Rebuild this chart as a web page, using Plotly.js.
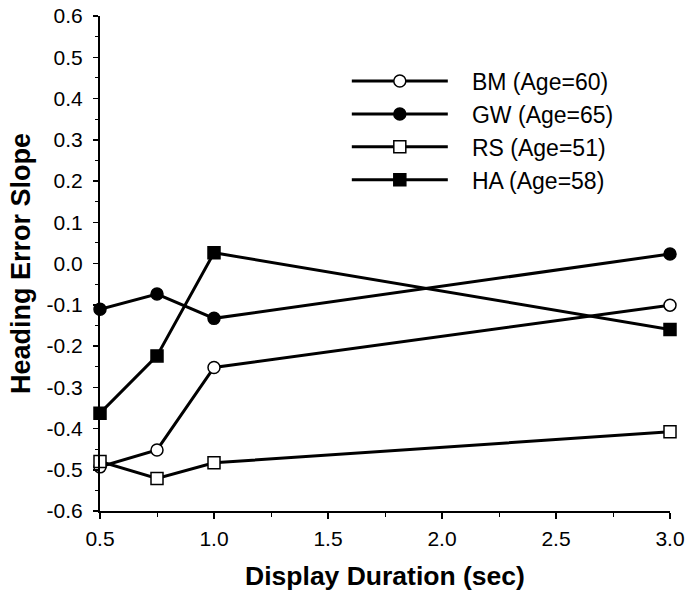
<!DOCTYPE html>
<html>
<head>
<meta charset="utf-8">
<script src="https://cdn.plot.ly/plotly-3.0.1.min.js"></script>
<style>html,body{margin:0;padding:0;background:#fff;}#chart{width:687px;height:591px;}</style>
</head>
<body>
<div id="chart"></div>
<script>
var durations = [0.5, 0.75, 1.0, 3.0];
var seriesNames = ["BM (Age=60)", "GW (Age=65)", "RS (Age=51)", "HA (Age=58)"];
var bmValues = [-0.493, -0.452, -0.252, -0.101];
var gwValues = [-0.111, -0.074, -0.133, 0.023];
var rsValues = [-0.480, -0.521, -0.483, -0.408];
var haValues = [-0.363, -0.224, 0.026, -0.160];
var xTickVals = [0.5, 1.0, 1.5, 2.0, 2.5, 3.0];
var xTickText = ["0.5", "1.0", "1.5", "2.0", "2.5", "3.0"];
var yTickVals = [-0.6, -0.5, -0.4, -0.3, -0.2, -0.1, 0.0, 0.1, 0.2, 0.3, 0.4, 0.5, 0.6];
var yTickText = ["-0.6", "-0.5", "-0.4", "-0.3", "-0.2", "-0.1", "0.0", "0.1", "0.2", "0.3", "0.4", "0.5", "0.6"];

var allValues = [bmValues, gwValues, rsValues, haValues];
var symbols = ["circle", "circle", "square", "square"];
var fills = ["#ffffff", "#000000", "#ffffff", "#000000"];
var pad = "\u00a0\u00a0\u00a0";

var traces = allValues.map(function (vals, i) {
  return {
    x: durations,
    y: vals,
    name: pad + seriesNames[i],
    type: "scatter",
    mode: "lines+markers",
    cliponaxis: false,
    line: {color: "#000", width: 3},
    marker: {symbol: symbols[i], size: 12, color: fills[i], line: {color: "#000", width: 1.5}}
  };
});

var layout = {
  width: 687,
  height: 591,
  margin: {l: 100, r: 17, t: 16, b: 80},
  paper_bgcolor: "#fff",
  plot_bgcolor: "#fff",
  font: {family: "Liberation Sans, Arial, sans-serif", color: "#000"},
  showlegend: true,
  legend: {
    x: 0.433, y: 0.912, xanchor: "left", yanchor: "top",
    bgcolor: "rgba(0,0,0,0)",
    font: {size: 23, color: "#000"},
    itemwidth: 96,
    tracegroupgap: 0
  },
  xaxis: {
    range: [0.5, 3.0],
    tickvals: xTickVals,
    ticktext: xTickText,
    ticks: "outside", ticklen: 6, tickwidth: 1.5, tickcolor: "#000",
    minor: {dtick: 0.25, ticks: "outside", ticklen: 4, tickwidth: 1, tickcolor: "#000"},
    showline: true, linecolor: "#000", linewidth: 2,
    showgrid: false, zeroline: false,
    tickfont: {size: 21},
    ticklabelstandoff: 2,
    title: {text: "Display Duration (sec)", font: {size: 26.5, family: "Liberation Sans, Arial, sans-serif", weight: "bold"}, standoff: 18},
    automargin: false
  },
  yaxis: {
    range: [-0.6, 0.6],
    tickvals: yTickVals,
    ticktext: yTickText,
    ticks: "outside", ticklen: 5, tickwidth: 1.5, tickcolor: "#000",
    minor: {dtick: 0.05, tick0: 0, ticks: "outside", ticklen: 3, tickwidth: 1, tickcolor: "#000"},
    showline: true, linecolor: "#000", linewidth: 2,
    showgrid: false, zeroline: false,
    tickfont: {size: 21},
    ticklabelstandoff: 6,
    title: {text: "Heading Error Slope", font: {size: 27, family: "Liberation Sans, Arial, sans-serif", weight: "bold"}, standoff: 8},
    automargin: false
  }
};

Plotly.newPlot("chart", traces, layout, {staticPlot: true, displayModeBar: false});
</script>
</body>
</html>
